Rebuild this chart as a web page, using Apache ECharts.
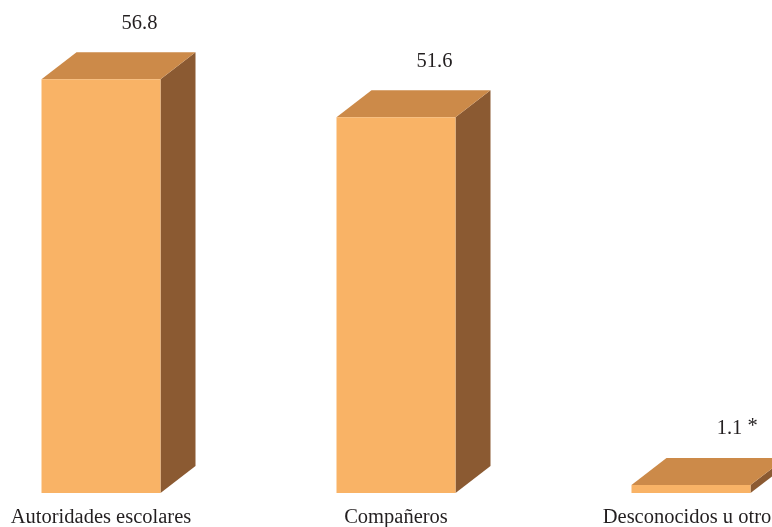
<!DOCTYPE html>
<html>
<head>
<meta charset="utf-8">
<script src="https://cdn.jsdelivr.net/npm/echarts@6/dist/echarts.min.js"></script>
<style>html,body{margin:0;padding:0;background:#fff}#c{width:772px;height:527px}</style>
</head>
<body>
<div id="c"></div>
<script>
const categories = ["Autoridades escolares", "Compañeros", "Desconocidos u otros"];
const values = [56.8, 51.6, 1.1];
const notes = ["", "", "*"];

const chart = echarts.init(document.getElementById('c'), null, {renderer: 'canvas'});
const FONT = '"Liberation Serif", "Times New Roman", serif';

chart.setOption({
  animation: false,
  backgroundColor: '#ffffff',
  grid: {left: 0, right: 0, top: 56, bottom: 34, containLabel: false},
  xAxis: {
    type: 'value', min: -0.3424, max: 2.2746, show: false
  },
  yAxis: {
    type: 'value', min: 0, max: 60, show: false
  },
  series: [{
    type: 'custom',
    data: values.map((v, i) => [i, v]),
    clip: false,
    renderItem: function (params, api) {
      const i = api.value(0), v = api.value(1);
      const top = api.coord([i, v]);
      const base = api.coord([i, 0]);
      const unit = api.size([1, 0])[0];
      const bw = unit * 0.4034;
      const x0 = top[0] - bw / 2, x1 = top[0] + bw / 2;
      const yt = top[1], yb = base[1];
      const dx = 35, dy = 27;
      const children = [
        {type: 'polygon', shape: {points: [[x1, yt], [x1 + dx, yt - dy], [x1 + dx, yb - dy], [x1, yb]]},
          style: {fill: '#8b5a32'}},
        {type: 'polygon', shape: {points: [[x0, yt], [x0 + dx, yt - dy], [x1 + dx, yt - dy], [x1, yt]]},
          style: {fill: '#cc8a49'}},
        {type: 'rect', shape: {x: x0, y: yt, width: bw, height: yb - yt},
          style: {fill: '#f9b366'}},
        {type: 'text', style: {text: v.toFixed(1), x: x1 - 21, y: yt - dy - 29,
          textAlign: 'center', textVerticalAlign: 'middle', fontFamily: FONT, fontSize: 20.5, fill: '#231f20'}},
        {type: 'text', style: {text: categories[i], x: top[0], y: yb + 25,
          textAlign: 'center', textVerticalAlign: 'middle', fontFamily: FONT, fontSize: 20.5, fill: '#231f20'}}
      ];
      if (notes[i]) {
        children.push({type: 'text', style: {text: notes[i], x: x1 - 21 + 18, y: yt - dy - 31,
          textAlign: 'left', textVerticalAlign: 'middle', fontFamily: FONT, fontSize: 20.5, fill: '#231f20'}});
      }
      return {type: 'group', children: children};
    }
  }]
});
</script>
</body>
</html>
